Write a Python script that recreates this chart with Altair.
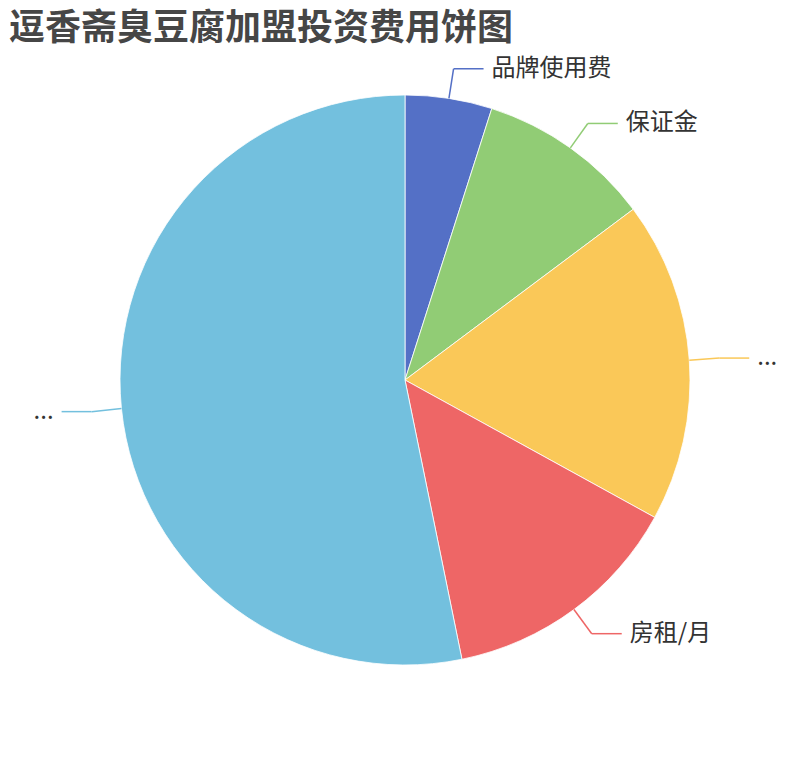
import altair as alt
import pandas as pd

# data
idx = [0, 1, 2, 3, 4]
labels = ["品牌使用费", "保证金", "...", "房租/月", "..."]
values = [5000, 10000, 18500, 14000, 54000]
colors = ["#5470c6", "#91cc75", "#fac858", "#ee6666", "#73c0de"]

df = pd.DataFrame({"idx": idx, "label": labels, "value": values})

CX, CY = 397, 322
R, R2, H = 285, 315, 30
FONT = "Noto Sans CJK SC"

color = alt.Color("idx:N", scale=alt.Scale(domain=idx, range=colors), legend=None)

base = alt.Chart(df)

arc = base.mark_arc(outerRadius=R, stroke="white", strokeWidth=0.8).encode(
    theta=alt.Theta("value:Q", stack=True),
    order=alt.Order("idx:Q"),
    color=color,
    x=alt.value(CX),
    y=alt.value(CY),
)

geo = base.transform_joinaggregate(total="sum(value)").transform_window(
    cum="sum(value)", sort=[alt.SortField("idx")], frame=[None, 0]
).transform_calculate(
    mid="(datum.cum - datum.value/2) / datum.total * 2 * PI",
).transform_calculate(
    sx=f"{CX} + {R}*sin(datum.mid)",
    sy=f"{CY} - {R}*cos(datum.mid)",
    ex=f"{CX} + {R2}*sin(datum.mid)",
    ey=f"{CY} - {R2}*cos(datum.mid)",
    side="sin(datum.mid) >= 0 ? 1 : -1",
).transform_calculate(
    hx=f"datum.ex + datum.side*{H}",
).transform_calculate(
    tx="datum.hx + datum.side*8",
)

line1 = geo.mark_rule(strokeWidth=1.5).encode(
    x=alt.X("sx:Q", scale=None, axis=None),
    y=alt.Y("sy:Q", scale=None, axis=None),
    x2="ex:Q",
    y2="ey:Q",
    color=color,
)
line2 = geo.mark_rule(strokeWidth=1.5).encode(
    x=alt.X("ex:Q", scale=None, axis=None),
    y=alt.Y("ey:Q", scale=None, axis=None),
    x2="hx:Q",
    y2="ey:Q",
    color=color,
)
txt_r = geo.transform_filter("datum.side > 0").mark_text(
    align="left", baseline="middle", fontSize=24, font=FONT, color="#333333"
).encode(
    x=alt.X("tx:Q", scale=None, axis=None),
    y=alt.Y("ey:Q", scale=None, axis=None),
    text="label:N",
)
txt_l = geo.transform_filter("datum.side < 0").mark_text(
    align="right", baseline="middle", fontSize=24, font=FONT, color="#333333"
).encode(
    x=alt.X("tx:Q", scale=None, axis=None),
    y=alt.Y("ey:Q", scale=None, axis=None),
    text="label:N",
)

chart = alt.layer(arc, line1, line2, txt_r, txt_l).properties(
    width=794,
    height=694,
    autosize=alt.AutoSizeParams(type="none"),
    padding={"left": 0, "top": 50, "right": 0, "bottom": 0},
    title=alt.TitleParams(
        "逗香斋臭豆腐加盟投资费用饼图",
        anchor="start",
        frame="group",
        font=FONT,
        fontSize=36,
        fontWeight="bold",
        color="#464646",
        offset=9,
        dx=1,
    ),
).configure_view(stroke=None)

chart.save("out.html", embed_options={"renderer": "svg", "actions": False})
